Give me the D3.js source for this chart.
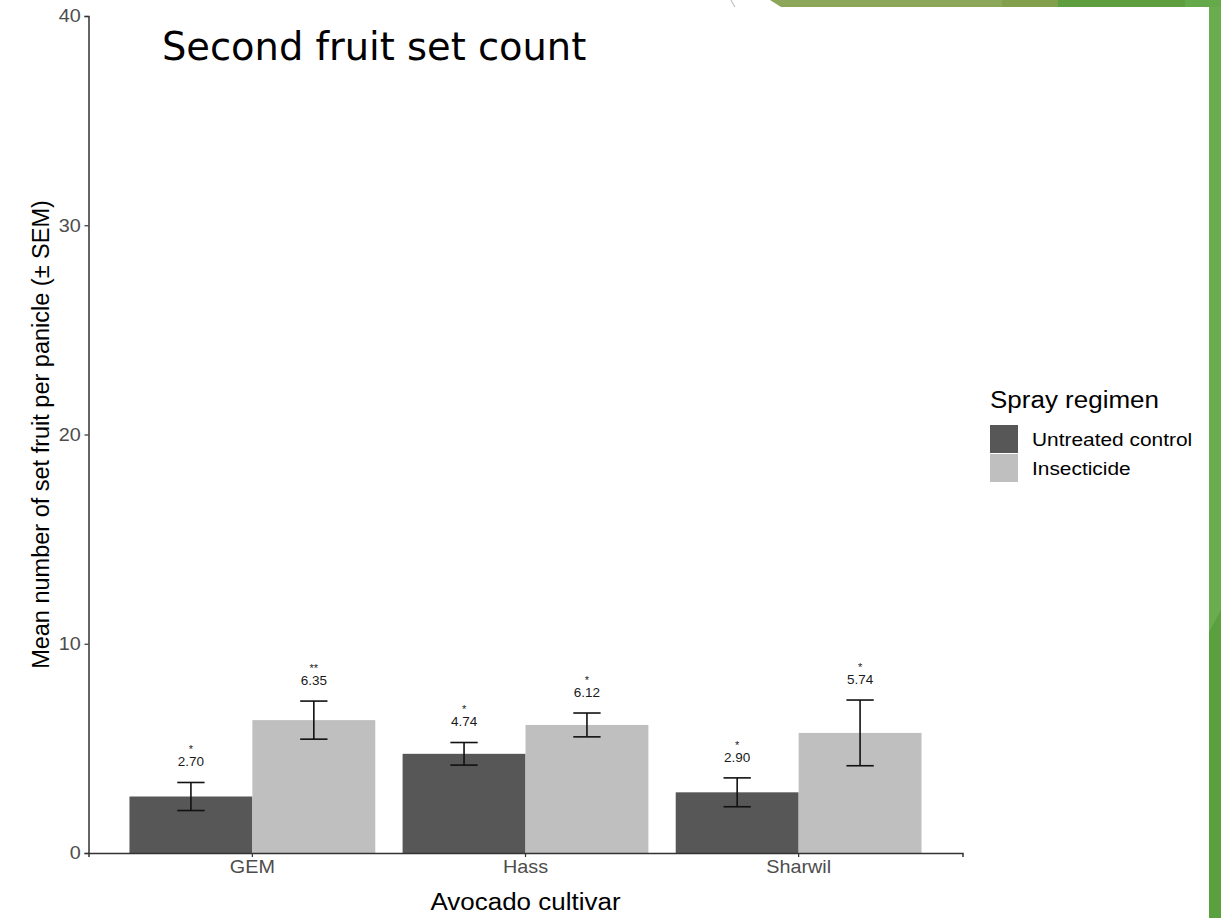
<!DOCTYPE html>
<html>
<head>
<meta charset="utf-8">
<script src="https://cdn.jsdelivr.net/npm/d3@7"></script>
<style>
  html, body { margin: 0; padding: 0; background: #ffffff; }
  svg { display: block; }
</style>
</head>
<body>
<svg id="chart" width="1221" height="919"></svg>
<script>
// Avocado cultivars and spray regimens
const cultivars = ["GEM", "Hass", "Sharwil"];
const regimens = ["Untreated control", "Insecticide"];

// Mean set fruit per panicle, one array per regimen (order follows cultivars)
const untreatedMeans = [2.70, 4.74, 2.90];
const insecticideMeans = [6.35, 6.12, 5.74];

// Standard error of the mean
const untreatedSEM = [0.67, 0.54, 0.69];
const insecticideSEM = [0.91, 0.57, 1.57];

// Significance markers printed above each mean
const untreatedStars = ["*", "*", "*"];
const insecticideStars = ["**", "*", "*"];

const yTicks = [0, 10, 20, 30, 40];

const rows = [];
cultivars.forEach((c, i) => {
  rows.push({ cultivar: c, regimen: regimens[0], mean: untreatedMeans[i], sem: untreatedSEM[i], star: untreatedStars[i] });
  rows.push({ cultivar: c, regimen: regimens[1], mean: insecticideMeans[i], sem: insecticideSEM[i], star: insecticideStars[i] });
});

const svg = d3.select("#chart");

// Slide decoration: green strip across the top right and down the right edge
const deco = svg.append("g");
deco.append("path")
  .attr("d", "M770,0 L1002,0 L1002,7 L781,7 Z")
  .attr("fill", "#8ca759");
deco.append("rect").attr("x", 1002).attr("y", 0).attr("width", 56).attr("height", 7).attr("fill", "#82a04c");
deco.append("rect").attr("x", 1058).attr("y", 0).attr("width", 127).attr("height", 7).attr("fill", "#5f9e3e");
deco.append("rect").attr("x", 1185).attr("y", 0).attr("width", 36).attr("height", 7).attr("fill", "#64aa4a");
deco.append("rect").attr("x", 1209).attr("y", 7).attr("width", 12).attr("height", 911).attr("fill", "#5ba03f");
deco.append("path")
  .attr("d", "M1209,7 L1221,7 L1221,610 L1209,632 Z")
  .attr("fill", "#69ad4e");
deco.append("path")
  .attr("d", "M731,0 Q733,4 735,7")
  .attr("fill", "none").attr("stroke", "#c4c4c4").attr("stroke-width", 1.2);

// Plot area
const plotLeft = 88.5, plotRight = 962.5, plotTop = 16, plotBottom = 853;
// The chart graphic is slightly widened on the slide, so its text is too
const stretch = 1.13;

const x = d3.scaleBand()
  .domain(cultivars)
  .range([plotLeft, plotRight])
  .paddingInner(0.1)
  .paddingOuter(0.15);

const xInner = d3.scaleBand()
  .domain(regimens)
  .range([0, x.bandwidth()]);

const y = d3.scaleLinear().domain([0, 40]).range([plotBottom, plotTop]);

const color = d3.scaleOrdinal().domain(regimens).range(["#575757", "#bfbfbf"]);

const font = "'Liberation Sans', Arial, sans-serif";

// Bars
svg.append("g").selectAll("rect")
  .data(rows)
  .join("rect")
  .attr("x", d => x(d.cultivar) + xInner(d.regimen))
  .attr("y", d => y(d.mean))
  .attr("width", xInner.bandwidth())
  .attr("height", d => y(0) - y(d.mean))
  .attr("fill", d => color(d.regimen));

// Error bars
const capHalf = x.step() * 0.05;
const eb = svg.append("g").attr("stroke", "#111").attr("stroke-width", 1.6).attr("fill", "none");
rows.forEach(d => {
  const cx = x(d.cultivar) + xInner(d.regimen) + xInner.bandwidth() / 2;
  const y1 = y(d.mean + d.sem), y0 = y(d.mean - d.sem);
  eb.append("line").attr("x1", cx).attr("x2", cx).attr("y1", y1).attr("y2", y0);
  eb.append("line").attr("x1", cx - capHalf).attr("x2", cx + capHalf).attr("y1", y1).attr("y2", y1);
  eb.append("line").attr("x1", cx - capHalf).attr("x2", cx + capHalf).attr("y1", y0).attr("y2", y0);
});

// Value and significance labels
const lab = svg.append("g").attr("font-family", font).attr("fill", "#1a1a1a").attr("text-anchor", "middle");
rows.forEach(d => {
  const cx = x(d.cultivar) + xInner(d.regimen) + xInner.bandwidth() / 2;
  const ly = y(d.mean + d.sem + 1.0);
  lab.append("text").attr("x", cx).attr("y", ly).attr("dy", "0.35em")
    .attr("font-size", 13.5).text(d.mean.toFixed(2));
  lab.append("text").attr("x", cx).attr("y", ly - 12).attr("dy", "0.35em")
    .attr("font-size", 11).text(d.star);
});

// Axes
const yAxis = svg.append("g")
  .attr("transform", `translate(${plotLeft},0)`)
  .call(d3.axisLeft(y).tickValues(yTicks).tickSize(4).tickPadding(3).tickFormat(d3.format("d")));
const xAxis = svg.append("g")
  .attr("transform", `translate(0,${plotBottom})`)
  .call(d3.axisBottom(x).tickSize(4).tickPadding(3));

[yAxis, xAxis].forEach(g => {
  g.select(".domain").attr("stroke", "#333").attr("stroke-width", 1.5);
  g.selectAll(".tick line").attr("stroke", "#333").attr("stroke-width", 1.2);
  g.selectAll(".tick text").attr("font-family", font).attr("font-size", 18).attr("fill", "#4d4d4d")
    .attr("transform", "scale(1.1,1)");
});

// Axis titles
svg.append("text")
  .attr("transform", `translate(41,${(plotTop + plotBottom) / 2}) rotate(-90)`)
  .attr("text-anchor", "middle").attr("dy", "0.35em")
  .attr("font-family", font).attr("font-size", 23.5).attr("fill", "#000")
  .text("Mean number of set fruit per panicle (± SEM)");

svg.append("text")
  .attr("transform", `translate(${(plotLeft + plotRight) / 2},902) scale(${stretch},1)`)
  .attr("text-anchor", "middle").attr("dy", "0.35em")
  .attr("font-family", font).attr("font-size", 23).attr("fill", "#000")
  .text("Avocado cultivar");

// Legend
const lg = svg.append("g").attr("transform", "translate(990,0)");
lg.append("text").attr("transform", `translate(0,400) scale(${stretch},1)`).attr("dy", "0.35em")
  .attr("font-family", font).attr("font-size", 23).attr("fill", "#000")
  .text("Spray regimen");
regimens.forEach((r, i) => {
  lg.append("rect").attr("x", 0).attr("y", 425 + i * 29).attr("width", 28).attr("height", 28)
    .attr("fill", color(r));
  lg.append("text").attr("transform", `translate(42,${439.5 + i * 29}) scale(${stretch},1)`).attr("dy", "0.35em")
    .attr("font-family", font).attr("font-size", 18.5).attr("fill", "#000")
    .text(r);
});

// Slide title
svg.append("text")
  .attr("x", 162).attr("y", 60)
  .attr("font-family", "'DejaVu Sans', Verdana, sans-serif").attr("font-size", 38.4).attr("fill", "#000")
  .text("Second fruit set count");
</script>
</body>
</html>
